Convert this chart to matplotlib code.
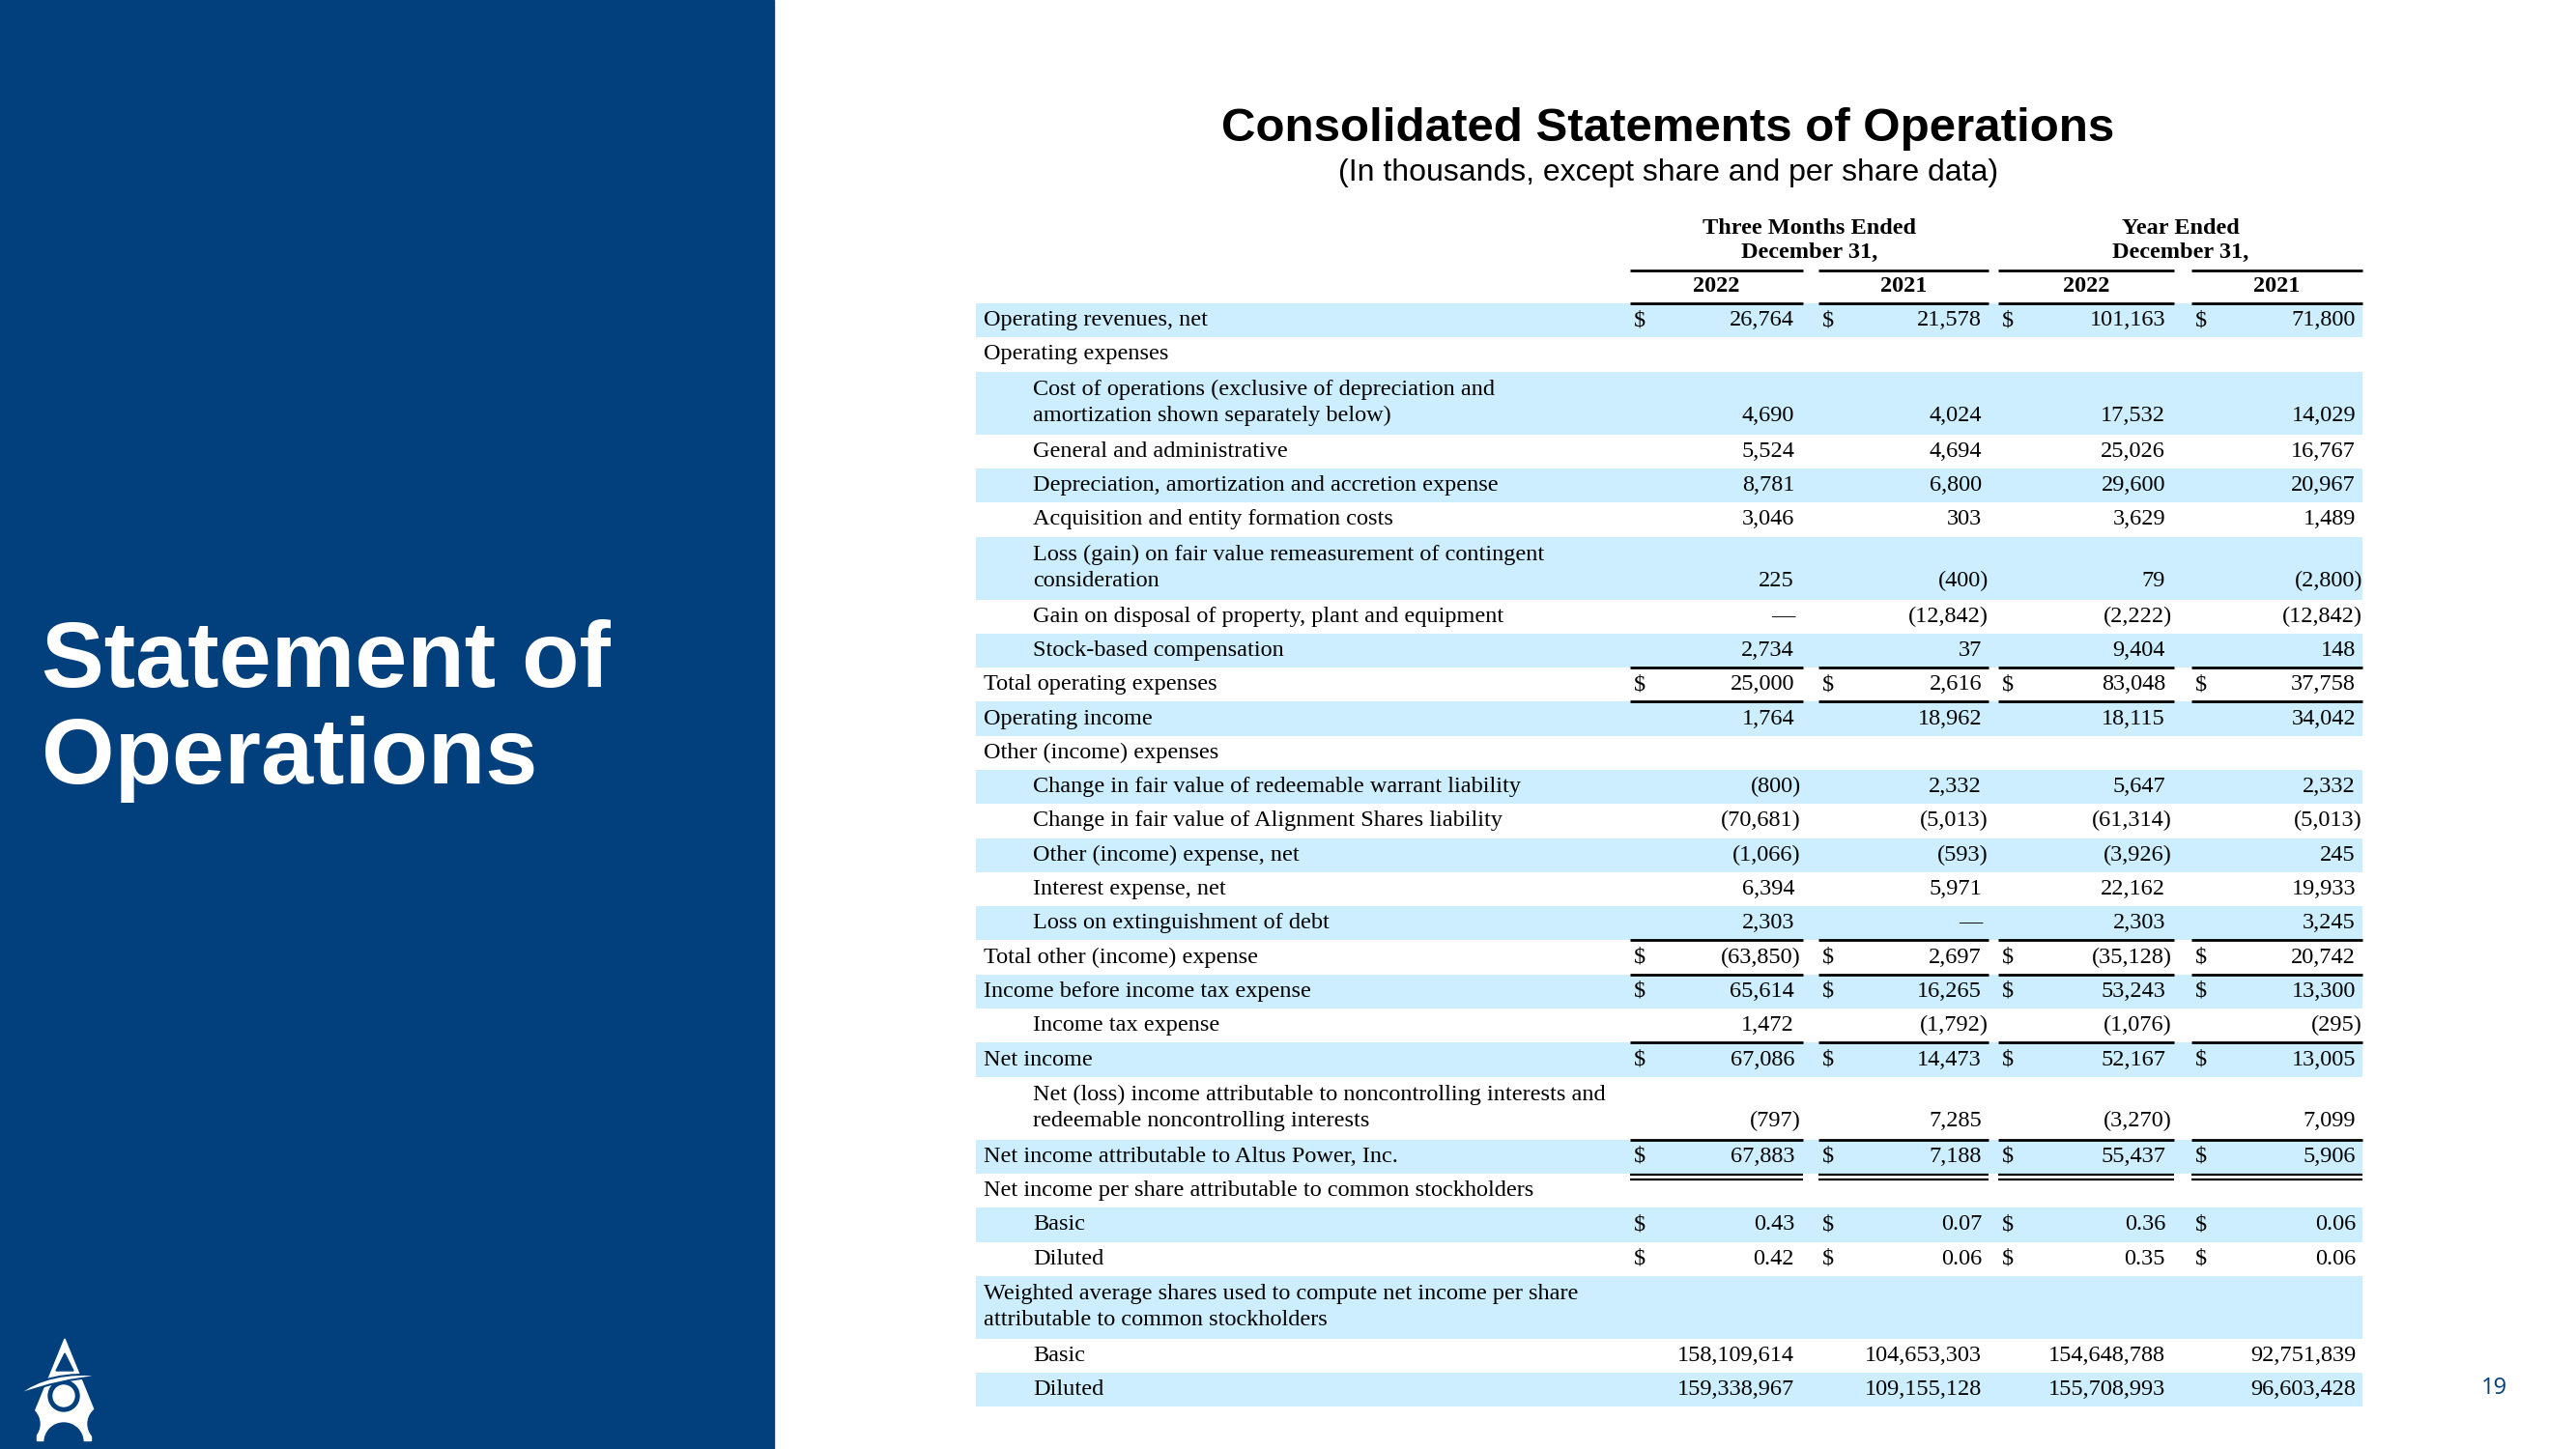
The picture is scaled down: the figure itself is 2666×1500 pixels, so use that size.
#
#   Consolidated Statements of Operations slide
#
import matplotlib
matplotlib.use('Agg')
import matplotlib.pyplot as plt
from matplotlib.patches import Rectangle, Polygon, Circle, PathPatch
from matplotlib.path import Path

#--------------------------------------------------------60
# Table data (in thousands, except share and per share data)

row_labels = [
    'Operating revenues, net',
    'Operating expenses',
    'Cost of operations (exclusive of depreciation and\namortization shown separately below)',
    'General and administrative',
    'Depreciation, amortization and accretion expense',
    'Acquisition and entity formation costs',
    'Loss (gain) on fair value remeasurement of contingent\nconsideration',
    'Gain on disposal of property, plant and equipment',
    'Stock-based compensation',
    'Total operating expenses',
    'Operating income',
    'Other (income) expenses',
    'Change in fair value of redeemable warrant liability',
    'Change in fair value of Alignment Shares liability',
    'Other (income) expense, net',
    'Interest expense, net',
    'Loss on extinguishment of debt',
    'Total other (income) expense',
    'Income before income tax expense',
    'Income tax expense',
    'Net income',
    'Net (loss) income attributable to noncontrolling interests and\nredeemable noncontrolling interests',
    'Net income attributable to Altus Power, Inc.',
    'Net income per share attributable to common stockholders',
    'Basic',
    'Diluted',
    'Weighted average shares used to compute net income per share\nattributable to common stockholders',
    'Basic',
    'Diluted',
]
row_indent = [0, 0, 1, 1, 1, 1, 1, 1, 1, 0, 0, 0, 1, 1, 1, 1, 1, 0, 0, 1, 0,
              1, 0, 0, 1, 1, 0, 1, 1]
dollar_rows = [0, 9, 17, 18, 20, 22, 24, 25]
eps_rows = [24, 25]
rule_above = [9, 10, 17, 18, 20, 22]
double_below = [22]

q4_2022 = [26764, None, 4690, 5524, 8781, 3046, 225, 0, 2734, 25000, 1764,
           None, -800, -70681, -1066, 6394, 2303, -63850, 65614, 1472, 67086,
           -797, 67883, None, 0.43, 0.42, None, 158109614, 159338967]
q4_2021 = [21578, None, 4024, 4694, 6800, 303, -400, -12842, 37, 2616, 18962,
           None, 2332, -5013, -593, 5971, 0, 2697, 16265, -1792, 14473,
           7285, 7188, None, 0.07, 0.06, None, 104653303, 109155128]
fy_2022 = [101163, None, 17532, 25026, 29600, 3629, 79, -2222, 9404, 83048,
           18115, None, 5647, -61314, -3926, 22162, 2303, -35128, 53243, -1076,
           52167, -3270, 55437, None, 0.36, 0.35, None, 154648788, 155708993]
fy_2021 = [71800, None, 14029, 16767, 20967, 1489, -2800, -12842, 148, 37758,
           34042, None, 2332, -5013, 245, 19933, 3245, 20742, 13300, -295,
           13005, 7099, 5906, None, 0.06, 0.06, None, 92751839, 96603428]

period_labels = ['Three Months Ended', 'Year Ended']
year_labels = ['2022', '2021', '2022', '2021']

#--------------------------------------------------------60
# Layout (pixels on a 2666 x 1500 canvas)

panel_blue = '#023F7D'
shade_blue = '#CCEEFF'
serif = 'Liberation Serif'
sans = 'Liberation Sans'
fs_tab = 17.5

col_seg = [(1687, 1866), (1882, 2058), (2068, 2250), (2268, 2445)]
col_right = [1857, 2051, 2241, 2438]
tab_left, tab_right = 1010, 2445
lab_x = [1018, 1069]
top_y = 314
h_single, h_double = 35.3, 65.0


def fmt(v, eps=False):
    if v is None:
        return ''
    if v == 0:
        return '\u2014'
    s = '{:,.2f}'.format(abs(v)) if eps else '{:,.0f}'.format(abs(v))
    return '(%s)' % s if v < 0 else s


fig = plt.figure(figsize=(26.66, 15), dpi=100)
ax = fig.add_axes([0, 0, 1, 1])
ax.set_xlim(0, 2666)
ax.set_ylim(1500, 0)
ax.axis('off')

#-------------------------------------
# Left panel

ax.add_patch(Rectangle((0, 0), 801, 1500, color=panel_blue, zorder=0))
ax.text(43, 711, 'Statement of', color='white', fontsize=70,
        weight='bold', family=sans, va='baseline', ha='left')
ax.text(43, 811, 'Operations', color='white', fontsize=70,
        weight='bold', family=sans, va='baseline', ha='left')

# logo (rough shapes)
ax.add_patch(Polygon([(67, 1386), (36, 1462), (98, 1462)], color='white',
                     zorder=2))
ax.add_patch(Polygon([(67, 1401), (58, 1419), (76, 1419)], color=panel_blue,
                     zorder=3))
ax.add_patch(Rectangle((38, 1455), 56, 36, color='white', zorder=2))
ax.add_patch(Circle((22, 1474), 19, color=panel_blue, zorder=3))
ax.add_patch(Circle((110, 1474), 19, color=panel_blue, zorder=3))
ax.add_patch(Circle((66, 1493), 20, color=panel_blue, zorder=3))
ax.add_patch(Circle((66, 1445), 16, color=panel_blue, zorder=4))
ax.add_patch(Circle((66, 1445), 11, color='white', zorder=5))
swoosh = Path([(18, 1444), (50, 1418), (108, 1424), (108, 1424),
               (60, 1428), (18, 1444), (18, 1444)],
              [Path.MOVETO, Path.CURVE3, Path.CURVE3, Path.LINETO,
               Path.CURVE3, Path.CURVE3, Path.CLOSEPOLY])
ax.add_patch(PathPatch(swoosh, facecolor='white', edgecolor=panel_blue,
                       lw=1.5, zorder=6))

#-------------------------------------
# Titles

ax.text(1726, 146, 'Consolidated Statements of Operations', fontsize=35.5,
        weight='bold', family=sans, ha='center', va='baseline')
ax.text(1727, 187, '(In thousands, except share and per share data)',
        fontsize=23, family=sans, ha='center', va='baseline')
ax.text(2581, 1437, '19', fontsize=17, family='Open Sans', color=panel_blue,
        ha='center', va='center')

#-------------------------------------
# Column headers

for i1, lab in enumerate(period_labels):
    xc = (col_seg[2 * i1][0] + col_seg[2 * i1 + 1][1]) / 2.
    ax.text(xc, 237, lab, fontsize=fs_tab, weight='bold', family=serif,
            ha='center', va='center')
    ax.text(xc, 261, 'December 31,', fontsize=fs_tab, weight='bold',
            family=serif, ha='center', va='center')

for i1, (x0, x1) in enumerate(col_seg):
    ax.text((x0 + x1) / 2., 297, year_labels[i1], fontsize=fs_tab,
            weight='bold', family=serif, ha='center', va='center')
    ax.plot([x0, x1], [280, 280], color='black', lw=2.0,
            solid_capstyle='butt', zorder=5)
    ax.plot([x0, x1], [top_y, top_y], color='black', lw=2.0,
            solid_capstyle='butt', zorder=5)

#-------------------------------------
# Body rows

columns = [q4_2022, q4_2021, fy_2022, fy_2021]
y = top_y
for i1, lab in enumerate(row_labels):
    lines = lab.split('\n')
    h = h_single if len(lines) == 1 else h_double
    if i1 % 2 == 0:
        ax.add_patch(Rectangle((tab_left, y), tab_right - tab_left, h,
                               color=shade_blue, zorder=1, lw=0))
    yc = y + h / 2.
    if len(lines) == 1:
        ys = [yc]
    else:
        ys = [yc - 13.5, yc + 13.5]
    for j1, txt in enumerate(lines):
        ax.text(lab_x[row_indent[i1]], ys[j1], txt, fontsize=fs_tab,
                family=serif, ha='left', va='center', zorder=3)
    yv = ys[-1]
    for k1, col in enumerate(columns):
        v = col[i1]
        if v is None:
            continue
        xr = col_right[k1] + (7 if v < 0 else 0)
        ax.text(xr, yv, fmt(v, i1 in eps_rows), fontsize=fs_tab,
                family=serif, ha='right', va='center', zorder=3)
        if i1 in dollar_rows:
            ax.text(col_seg[k1][0] + 10, yv, '$', fontsize=fs_tab,
                    family=serif, ha='center', va='center', zorder=3)
    for (x0, x1) in col_seg:
        if i1 in rule_above:
            ax.plot([x0, x1], [y, y], color='black', lw=2.0,
                    solid_capstyle='butt', zorder=5)
        if i1 in double_below:
            ax.plot([x0, x1], [y + h + 1, y + h + 1], color='black',
                    lw=1.6, solid_capstyle='butt', zorder=5)
            ax.plot([x0, x1], [y + h + 6, y + h + 6], color='black',
                    lw=1.6, solid_capstyle='butt', zorder=5)
    y += h

fig.savefig('out.png', dpi=100)
